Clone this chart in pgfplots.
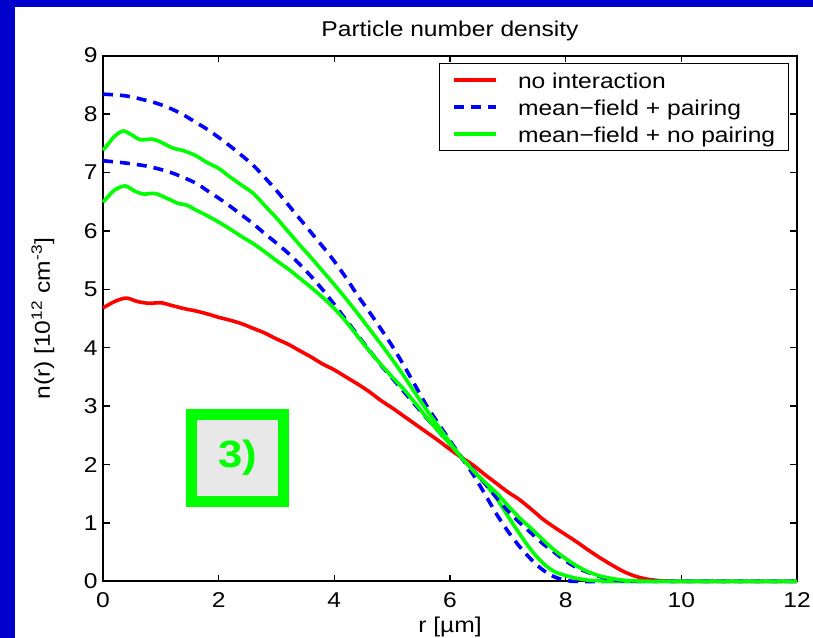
\documentclass[border=0pt]{standalone}
\usepackage{fontspec}
\setmainfont{Liberation Sans}[FakeStretch=1.15]
\usepackage{pgfplots}
\pgfplotsset{compat=1.18}
\definecolor{bgblue}{RGB}{0,0,204}
\definecolor{mred}{RGB}{255,0,0}
\definecolor{mblue}{RGB}{0,0,255}
\definecolor{mgreen}{RGB}{0,255,0}
\begin{document}
\fontsize{10.7bp}{13bp}\selectfont
\begin{tikzpicture}
\useasboundingbox (-51.5bp,-28.3bp) rectangle (355bp,290.7bp);
\fill[white] (-51.5bp,-28.3bp) rectangle (355bp,290.7bp);
\fill[bgblue] (-51.5bp,-28.3bp) rectangle (-44bp,290.7bp);
\fill[bgblue] (-51.5bp,287.2bp) rectangle (355bp,290.7bp);
\begin{axis}[
  at={(0,0)}, anchor=south west,
  scale only axis, width=347bp, height=262.9bp,
  xmin=0, xmax=12, ymin=0, ymax=9,
  xtick={0,2,...,12}, ytick={0,1,...,9},
  tick align=inside, major tick length=3.35bp,
  axis line style={line width=1bp},
  every tick/.style={black, line width=0.75bp},
  /pgf/number format/assume math mode=true,
  xticklabel style={anchor=base, yshift=-12.8bp, inner sep=0pt},
  yticklabel style={anchor=east, xshift=-2.5bp, inner sep=0pt},
  every axis title shift=0pt,
  title={Particle number density},
  title style={at={(axis description cs:0.5,1)}, anchor=base, yshift=9.8bp, inner sep=0pt},
  xlabel={r [µm]},
  xlabel style={at={(axis description cs:0.5,0)}, anchor=base, yshift=-25.3bp, inner sep=0pt},
  ylabel={n(r) [10\textsuperscript{12} cm\textsuperscript{-3}]},
  ylabel style={at={(axis description cs:-0.0765,0.5)}, anchor=base, inner sep=0pt},
  clip=false,
  legend cell align=left,
  legend style={at={(axis description cs:0.9885,0.9854)}, anchor=north east,
    draw=black, line width=0.5bp, fill=white,
    inner xsep=6.65bp, inner ysep=3.75bp, row sep=4.85bp, column sep=10bp,
    nodes={inner sep=0pt, text height=8.7bp, text depth=0bp}},
  legend image code/.code={\draw[#1] (0bp,0bp) -- (21bp,0bp);},
]
\addplot[mred, line width=1.8bp, line join=round, smooth] table {
0 4.68
0.2 4.79
0.4 4.85
0.6 4.79
0.8 4.76
1.0 4.77
1.2 4.72
1.4 4.67
1.6 4.63
1.8 4.58
2.0 4.52
2.2 4.47
2.4 4.41
2.6 4.33
2.8 4.25
3.0 4.15
3.2 4.06
3.4 3.95
3.6 3.84
3.8 3.72
4.0 3.62
4.2 3.50
4.4 3.38
4.6 3.25
4.8 3.10
5.0 2.97
5.2 2.83
5.4 2.69
5.6 2.55
5.8 2.41
6.0 2.26
6.2 2.12
6.4 1.99
6.6 1.83
6.8 1.68
7.0 1.53
7.2 1.40
7.4 1.24
7.6 1.07
7.8 0.93
8.0 0.80
8.2 0.67
8.4 0.53
8.6 0.40
8.8 0.28
9.0 0.17
9.2 0.09
9.4 0.04
9.6 0.015
9.8 0.004
10.0 0
11 0
12 0
};
\addlegendentry{no interaction}
\addplot[mblue, line width=1.8bp, dash pattern=on 5bp off 3.5bp, smooth] table {
0 8.34
0.4 8.31
0.8 8.22
1.0 8.16
1.2 8.08
1.4 7.98
1.6 7.86
1.8 7.74
2.0 7.60
2.2 7.45
2.4 7.29
2.6 7.12
2.8 6.91
3.0 6.69
3.2 6.45
3.4 6.21
3.6 5.97
3.8 5.73
4.0 5.48
4.2 5.20
4.4 4.90
4.6 4.62
4.8 4.33
5.0 4.03
5.2 3.70
5.4 3.35
5.6 3.00
5.8 2.70
6.0 2.41
6.2 2.12
6.4 1.83
6.6 1.50
6.8 1.16
7.0 0.86
7.2 0.60
7.4 0.38
7.6 0.20
7.8 0.08
8.0 0.02
8.2 0
9 0
10 0
11 0
12 0
};
\addlegendentry{mean−field + pairing}
\addplot[mgreen, line width=1.8bp, line join=round, smooth] table {
0 7.38
0.1 7.50
0.2 7.62
0.35 7.71
0.5 7.64
0.65 7.56
0.85 7.57
1.0 7.52
1.2 7.42
1.4 7.37
1.6 7.29
1.8 7.17
2.0 7.07
2.2 6.92
2.4 6.78
2.6 6.64
2.8 6.43
3.0 6.22
3.2 5.99
3.4 5.76
3.6 5.54
3.8 5.31
4.0 5.08
4.2 4.84
4.4 4.59
4.6 4.33
4.8 4.07
5.0 3.80
5.2 3.52
5.4 3.22
5.6 2.93
5.8 2.65
6.0 2.38
6.2 2.12
6.4 1.90
6.6 1.68
6.8 1.43
7.0 1.12
7.2 0.82
7.4 0.54
7.6 0.32
7.8 0.17
8.0 0.10
8.2 0.05
8.4 0.02
8.6 0.01
8.8 0
10 0
11 0
12 0
};
\addlegendentry{mean−field + no pairing}
\addplot[mblue, line width=1.8bp, dash pattern=on 5bp off 3.5bp, smooth, forget plot] table {
0 7.20
0.4 7.16
0.8 7.10
1.2 6.99
1.6 6.82
1.8 6.69
2.0 6.56
2.2 6.42
2.4 6.27
2.6 6.12
2.8 5.95
3.0 5.79
3.2 5.62
3.4 5.43
3.6 5.22
3.8 4.99
4.0 4.74
4.2 4.48
4.4 4.22
4.6 3.96
4.8 3.71
5.0 3.48
5.2 3.25
5.4 3.02
5.6 2.79
5.8 2.57
6.0 2.35
6.2 2.12
6.4 1.91
6.6 1.68
6.8 1.44
7.0 1.21
7.2 1.01
7.4 0.83
7.6 0.65
7.8 0.50
8.0 0.35
8.2 0.23
8.4 0.15
8.6 0.08
8.8 0.03
9.0 0.01
9.2 0
10 0
11 0
12 0
};
\addplot[mgreen, line width=1.8bp, line join=round, smooth, forget plot] table {
0 6.49
0.1 6.60
0.2 6.70
0.38 6.77
0.55 6.68
0.7 6.63
0.9 6.64
1.1 6.56
1.3 6.47
1.45 6.44
1.6 6.36
1.8 6.26
2.0 6.15
2.2 6.03
2.4 5.90
2.6 5.78
2.8 5.64
3.0 5.49
3.2 5.35
3.4 5.19
3.6 5.03
3.8 4.86
4.0 4.67
4.2 4.45
4.4 4.20
4.6 3.95
4.8 3.72
5.0 3.50
5.2 3.29
5.4 3.05
5.6 2.80
5.8 2.57
6.0 2.35
6.2 2.12
6.4 1.90
6.6 1.70
6.8 1.52
7.0 1.30
7.2 1.09
7.4 0.91
7.6 0.72
7.8 0.54
8.0 0.39
8.2 0.26
8.4 0.16
8.6 0.09
8.8 0.05
9.0 0.02
9.2 0.01
9.4 0
10 0
11 0
12 0
};
\node[draw=mgreen, line width=5.5bp, fill=gray!18, minimum width=46bp, minimum height=43.5bp, inner sep=0pt, text=mgreen, font=\bfseries\fontsize{19bp}{19bp}\selectfont] at (axis cs:2.33,2.11) {3)};
\end{axis}
\end{tikzpicture}
\end{document}
